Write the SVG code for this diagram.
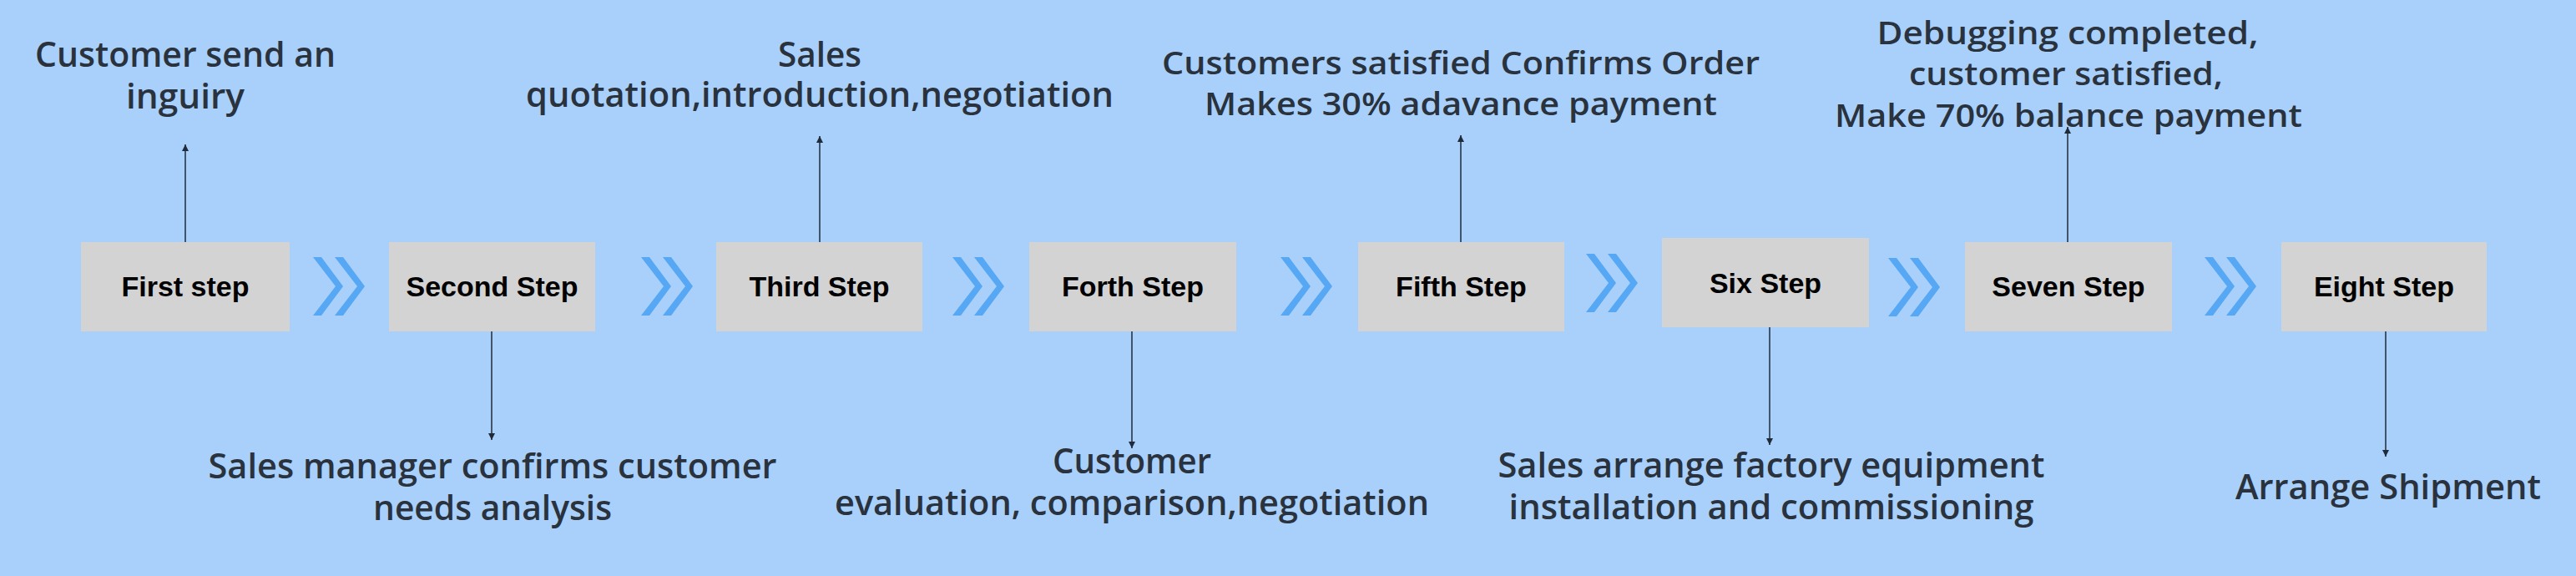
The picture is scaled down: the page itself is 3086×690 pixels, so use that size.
<svg xmlns="http://www.w3.org/2000/svg" xmlns:xlink="http://www.w3.org/1999/xlink" width="3086" height="690" viewBox="0 0 3086 690">
<style>
.box{fill:#d3d3d3;}
.step{font-family:"Liberation Sans",Arial,sans-serif;font-weight:700;font-size:34px;fill:#000;text-anchor:middle;}
.lbl{font-family:"Open Sans","Noto Sans",sans-serif;font-weight:600;font-size:41px;fill:#29323d;text-anchor:middle;}
.lbls{font-size:37px;}
.conn{stroke:#1f2b3a;stroke-width:1.5;fill:none;marker-end:url(#ah);}
.chev{fill:#56a7f4;}
</style>
<defs>
<marker id="ah" viewBox="0 0 8 10" refX="8" refY="5" markerWidth="8" markerHeight="10" markerUnits="userSpaceOnUse" orient="auto">
<path d="M0,1 L8,5 L0,9 Z" fill="#1f2b3a"/>
</marker>
<g id="chev">
<polygon class="chev" points="0,0 10,0 36,35 10,70 0,70 27,35"/>
<polygon class="chev" points="26,0 36,0 62,35 36,70 26,70 53,35"/>
</g>
</defs>
<rect width="3086" height="690" fill="#a8d0fb"/>

<g id="connectors">
<line class="conn" x1="222" y1="290" x2="222" y2="173"/>
<line class="conn" x1="589" y1="397" x2="589" y2="527"/>
<line class="conn" x1="982" y1="290" x2="982" y2="163"/>
<line class="conn" x1="1356" y1="397" x2="1356" y2="537"/>
<line class="conn" x1="1750" y1="290" x2="1750" y2="162"/>
<line class="conn" x1="2120" y1="392" x2="2120" y2="533"/>
<line class="conn" x1="2477" y1="290" x2="2477" y2="152"/>
<line class="conn" x1="2858" y1="397" x2="2858" y2="547"/>
<use xlink:href="#chev" href="#chev" transform="translate(375,308)"/>
<use xlink:href="#chev" href="#chev" transform="translate(768,308)"/>
<use xlink:href="#chev" href="#chev" transform="translate(1141,308)"/>
<use xlink:href="#chev" href="#chev" transform="translate(1534,308)"/>
<use xlink:href="#chev" href="#chev" transform="translate(1900,304)"/>
<use xlink:href="#chev" href="#chev" transform="translate(2262,309)"/>
<use xlink:href="#chev" href="#chev" transform="translate(2641,308)"/>
</g>

<g id="step1">
<rect class="box" x="97" y="290" width="250" height="107"/>
<text class="step" x="222" y="355">First step</text>
<text class="lbl" x="222" y="80" textLength="360" lengthAdjust="spacingAndGlyphs">Customer send an</text>
<text class="lbl" x="222" y="130" textLength="142" lengthAdjust="spacingAndGlyphs">inguiry</text>
</g>
<g id="step2">
<rect class="box" x="466" y="290" width="247" height="107"/>
<text class="step" x="589.5" y="355">Second Step</text>
<text class="lbl" x="590" y="573" textLength="681" lengthAdjust="spacingAndGlyphs">Sales manager confirms customer</text>
<text class="lbl" x="590" y="623" textLength="286" lengthAdjust="spacingAndGlyphs">needs analysis</text>
</g>
<g id="step3">
<rect class="box" x="858" y="290" width="247" height="107"/>
<text class="step" x="981.5" y="355">Third Step</text>
<text class="lbl" x="982" y="80" textLength="100" lengthAdjust="spacingAndGlyphs">Sales</text>
<text class="lbl" x="982" y="128" textLength="704" lengthAdjust="spacingAndGlyphs">quotation,introduction,negotiation</text>
</g>
<g id="step4">
<rect class="box" x="1233" y="290" width="248" height="107"/>
<text class="step" x="1357" y="355">Forth Step</text>
<text class="lbl" x="1356" y="567" textLength="190" lengthAdjust="spacingAndGlyphs">Customer</text>
<text class="lbl" x="1356" y="617" textLength="712" lengthAdjust="spacingAndGlyphs">evaluation, comparison,negotiation</text>
</g>
<g id="step5">
<rect class="box" x="1627" y="290" width="247" height="107"/>
<text class="step" x="1750.5" y="355">Fifth Step</text>
<text class="lbl lbls" x="1750" y="89" textLength="716" lengthAdjust="spacingAndGlyphs">Customers satisfied Confirms Order</text>
<text class="lbl lbls" x="1750" y="138" textLength="614" lengthAdjust="spacingAndGlyphs">Makes 30% adavance payment</text>
</g>
<g id="step6">
<rect class="box" x="1991" y="285" width="248" height="107"/>
<text class="step" x="2115" y="351">Six Step</text>
<text class="lbl" x="2122" y="572" textLength="655" lengthAdjust="spacingAndGlyphs">Sales arrange factory equipment</text>
<text class="lbl" x="2122" y="622" textLength="629" lengthAdjust="spacingAndGlyphs">installation and commissioning</text>
</g>
<g id="step7">
<rect class="box" x="2354" y="290" width="248" height="107"/>
<text class="step" x="2478" y="355">Seven Step</text>
<text class="lbl lbls" x="2477" y="53" textLength="457" lengthAdjust="spacingAndGlyphs">Debugging completed,</text>
<text class="lbl lbls" x="2475" y="102" textLength="376" lengthAdjust="spacingAndGlyphs">customer satisfied,</text>
<text class="lbl lbls" x="2478" y="152" textLength="560" lengthAdjust="spacingAndGlyphs">Make 70% balance payment</text>
</g>
<g id="step8">
<rect class="box" x="2733" y="290" width="246" height="107"/>
<text class="step" x="2856" y="355">Eight Step</text>
<text class="lbl" x="2861" y="598" textLength="366" lengthAdjust="spacingAndGlyphs">Arrange Shipment</text>
</g>
</svg>
